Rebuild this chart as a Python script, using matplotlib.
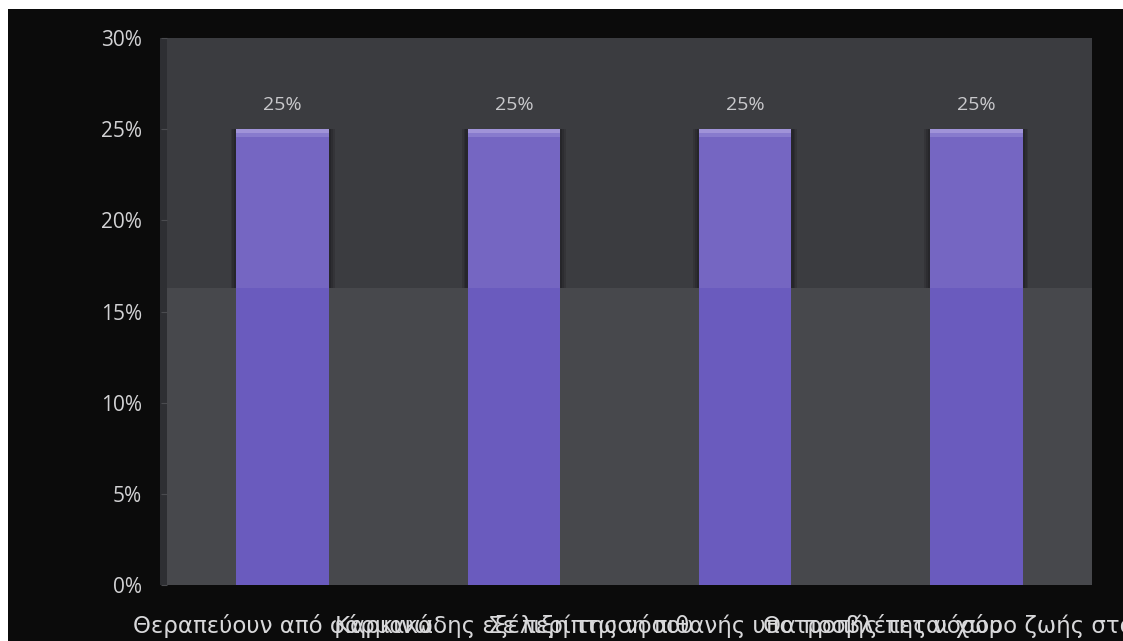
import matplotlib
matplotlib.use("Agg")
import matplotlib.pyplot as plt
from matplotlib.patches import Rectangle
from matplotlib.ticker import FuncFormatter, MultipleLocator

plt.rcParams['font.family'] = ['Open Sans', 'DejaVu Sans']

# Responses (share of answers)
categories = [
    "Θεραπεύουν από φάρμακα",
    "Καρκινώδης εξέλιξη της νόσου",
    "Σε περίπτωση πιθανής υποτροπής της νόσου",
    "Θα προβλέπεται χώρο ζωής στο νησί",
]
values = [25, 25, 25, 25]
value_labels = ["25%", "25%", "25%", "25%"]

W, H, DPI = 1123, 641, 100
fig = plt.figure(figsize=(W / DPI, H / DPI), dpi=DPI, facecolor="white")

# dark frame behind the chart
fig.patches.append(Rectangle((8 / W, 0), 1 - 8 / W, 1 - 9 / H,
                             transform=fig.transFigure, facecolor="#0b0b0b",
                             edgecolor="none", zorder=-10))

left, right = 167 / W, 1092 / W
top, bottom = 1 - 38 / H, 1 - 585 / H
ax = fig.add_axes([left, bottom, right - left, top - bottom])
ax.set_facecolor("none")

split = 0.543
ax.add_patch(Rectangle((0, split), 1, 1 - split, transform=ax.transAxes,
                       facecolor="#3b3c40", edgecolor="none", zorder=0))
ax.add_patch(Rectangle((0, 0), 1, split, transform=ax.transAxes,
                       facecolor="#47484c", edgecolor="none", zorder=0))
ax.add_patch(Rectangle((-0.008, 0), 0.008, 1, transform=ax.transAxes,
                       facecolor="#2e2f33", edgecolor="none", zorder=0,
                       clip_on=False))

x = list(range(len(categories)))
bar_w = 0.4

ylo, yhi = 0, 30
ax.set_ylim(ylo, yhi)
ax.set_xlim(-0.5, len(categories) - 0.5)
split_val = ylo + split * (yhi - ylo)

# soft dark halo around the bars (upper section only)
for k, a in ((0.05, 0.25), (0.035, 0.35), (0.02, 0.5)):
    ax.bar(x, values, width=bar_w + k, bottom=0, color="#202024",
           alpha=a, zorder=1)
bars = ax.bar(x, values, width=bar_w, color="#7566c2", zorder=2)

for b in bars:
    bx, bw, bh = b.get_x(), b.get_width(), b.get_height()
    # lower, more saturated part of each bar (covers the halo there too)
    ax.add_patch(Rectangle((bx - 0.03, 0), bw + 0.06, min(bh, split_val),
                           facecolor="#47484c", edgecolor="none", zorder=2.5))
    ax.add_patch(Rectangle((bx, 0), bw, min(bh, split_val),
                           facecolor="#6a5bbe", edgecolor="none", zorder=3))
    # bevelled top edge
    ax.add_patch(Rectangle((bx, bh - 0.2), bw, 0.2,
                           facecolor="#a093d8", edgecolor="none", zorder=3))
    ax.add_patch(Rectangle((bx, bh - 0.42), bw, 0.22,
                           facecolor="#887bcd", edgecolor="none", zorder=3))

for b, lab in zip(bars, value_labels):
    ax.annotate(lab, (b.get_x() + b.get_width() / 2, b.get_height()),
                xytext=(0, 11), textcoords="offset points", ha="center",
                va="bottom", color="#c9c9cc", fontsize=14)

ax.yaxis.set_major_locator(MultipleLocator(5))
ax.yaxis.set_major_formatter(FuncFormatter(lambda v, p: f"{v:.0f}%"))
ax.tick_params(axis="y", colors="#4a4b4f", labelcolor="#d2d2d4",
               labelsize=15, length=4, pad=14)
ax.set_xticks(x)
ax.set_xticklabels(categories, color="#d8d8da", fontsize=16.5,
                   family=["DejaVu Sans"])
ax.tick_params(axis="x", length=0, pad=21)

for s in ax.spines.values():
    s.set_visible(False)

fig.savefig("out.png", dpi=DPI, facecolor="white")
